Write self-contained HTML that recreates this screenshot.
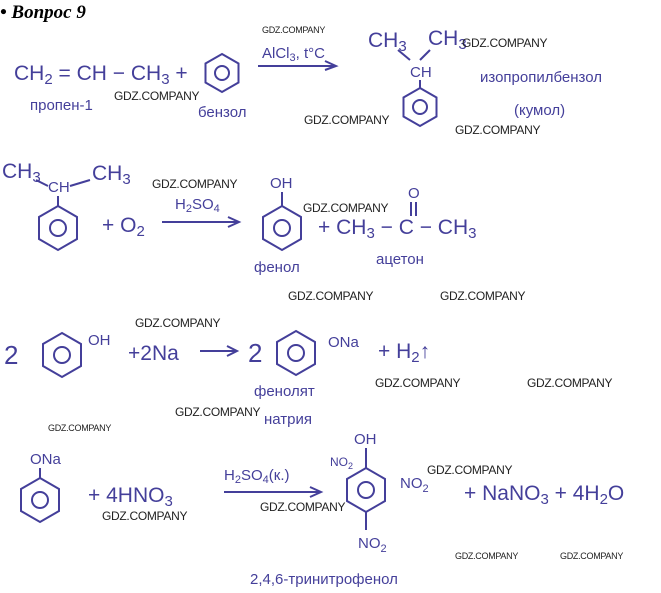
<!DOCTYPE html>
<html><head><meta charset="utf-8"><style>
html,body{margin:0;padding:0;background:#fff;width:661px;height:593px;overflow:hidden}
svg{display:block}
.h{font-family:"Liberation Sans",sans-serif;fill:#443f9a;font-size:21px}
.s{font-size:15px}
.w{font-family:"Liberation Sans",sans-serif;fill:#222;font-size:12px;letter-spacing:-0.3px}
.ws{font-size:9px}
.l{stroke:#443f9a;stroke-width:2;fill:none}
</style></head><body>
<svg width="661" height="593" viewBox="0 0 661 593">
<defs>
<g id="bz"><polygon class="l" points="0,-19 16.5,-9.5 16.5,9.5 0,19 -16.5,9.5 -16.5,-9.5"/><circle class="l" r="7"/></g>
<g id="bzL"><polygon class="l" points="0,-22 19,-11 19,11 0,22 -19,11 -19,-11"/><circle class="l" r="8"/></g>
</defs>
<text x="0" y="18" style="font-family:'Liberation Serif',serif;font-weight:bold;font-style:italic;font-size:19px">• Вопрос 9</text>

<!-- row 1 -->
<text class="h" x="14" y="80">CH<tspan class="s" dy="4">2</tspan><tspan dy="-4"> = CH − CH</tspan><tspan class="s" dy="4">3</tspan><tspan dy="-4"> +</tspan></text>
<use href="#bz" x="222" y="73"/>
<text class="h s" x="30" y="110">пропен-1</text>
<text class="h s" x="198" y="117">бензол</text>
<line class="l" x1="258" y1="66" x2="335" y2="66"/><polyline class="l" points="325,61 336,66 325,70"/>
<text class="h s" x="262" y="58">AlCl<tspan style="font-size:11px" dy="3">3</tspan><tspan dy="-3">, t°C</tspan></text>
<text class="h" x="368" y="47">CH<tspan class="s" dy="4">3</tspan></text>
<text class="h" x="428" y="45">CH<tspan class="s" dy="4">3</tspan></text>
<line class="l" x1="398" y1="50" x2="410" y2="60"/><line class="l" x1="430" y1="50" x2="420" y2="60"/>
<text class="h s" x="410" y="77">CH</text>
<line class="l" x1="420" y1="80" x2="420" y2="88"/>
<use href="#bz" x="420" y="107"/>
<text class="h s" x="480" y="82">изопропилбензол</text>
<text class="h s" x="514" y="115">(кумол)</text>

<!-- row 2 -->
<text class="h" x="2" y="178">CH<tspan class="s" dy="4">3</tspan></text>
<text class="h s" x="48" y="192">CH</text>
<text class="h" x="92" y="180">CH<tspan class="s" dy="4">3</tspan></text>
<line class="l" x1="36" y1="180" x2="48" y2="186"/><line class="l" x1="90" y1="180" x2="70" y2="186"/>
<line class="l" x1="58" y1="196" x2="58" y2="206"/>
<use href="#bzL" x="58" y="228"/>
<text class="h" x="102" y="232">+ O<tspan class="s" dy="4">2</tspan></text>
<line class="l" x1="162" y1="222" x2="238" y2="222"/><polyline class="l" points="228,217 239,222 228,227"/>
<text class="h s" x="175" y="209">H<tspan style="font-size:11px" dy="3">2</tspan><tspan dy="-3">SO</tspan><tspan style="font-size:11px" dy="3">4</tspan></text>
<text class="h s" x="270" y="188">OH</text>
<line class="l" x1="282" y1="192" x2="282" y2="206"/>
<use href="#bzL" x="282" y="228"/>
<text class="h s" x="254" y="272">фенол</text>
<text class="h" x="318" y="234">+ CH<tspan class="s" dy="4">3</tspan><tspan dy="-4"> − C − CH</tspan><tspan class="s" dy="4">3</tspan></text>
<text class="h s" x="408" y="198">O</text>
<line class="l" x1="411" y1="202" x2="411" y2="216"/><line class="l" x1="416" y1="202" x2="416" y2="216"/>
<text class="h s" x="376" y="264">ацетон</text>

<!-- row 3 -->
<text class="h" x="4" y="364" style="font-size:26px">2</text>
<use href="#bzL" x="62" y="355"/>
<text class="h s" x="88" y="345">OH</text>
<text class="h" x="128" y="360">+2Na</text>
<line class="l" x1="200" y1="351" x2="236" y2="351"/><polyline class="l" points="227,346 237,351 227,356"/>
<text class="h" x="248" y="362" style="font-size:26px">2</text>
<use href="#bzL" x="296" y="353"/>
<text class="h s" x="328" y="347">ONa</text>
<text class="h" x="378" y="358">+ H<tspan class="s" dy="4">2</tspan><tspan dy="-4">↑</tspan></text>
<text class="h s" x="254" y="396">фенолят</text>
<text class="h s" x="264" y="424">натрия</text>

<!-- row 4 -->
<text class="h s" x="30" y="464">ONa</text>
<line class="l" x1="40" y1="468" x2="40" y2="478"/>
<use href="#bzL" x="40" y="500"/>
<text class="h" x="88" y="502">+ 4HNO<tspan class="s" dy="4">3</tspan></text>
<line class="l" x1="224" y1="492" x2="320" y2="492"/><polyline class="l" points="310,487 321,492 310,497"/>
<text class="h s" x="224" y="480">H<tspan style="font-size:11px" dy="3">2</tspan><tspan dy="-3">SO</tspan><tspan style="font-size:11px" dy="3">4</tspan><tspan dy="-3">(к.)</tspan></text>
<text class="h s" x="354" y="444">OH</text>
<line class="l" x1="366" y1="448" x2="366" y2="468"/>
<use href="#bzL" x="366" y="490"/>
<text class="h" x="330" y="466" style="font-size:12px">NO<tspan style="font-size:9px" dy="3">2</tspan></text>
<text class="h s" x="400" y="488">NO<tspan style="font-size:11px" dy="4">2</tspan></text>
<line class="l" x1="366" y1="512" x2="366" y2="530"/>
<text class="h s" x="358" y="548">NO<tspan style="font-size:11px" dy="4">2</tspan></text>
<text class="h" x="464" y="500">+ NaNO<tspan class="s" dy="4">3</tspan><tspan dy="-4"> + 4H</tspan><tspan class="s" dy="4">2</tspan><tspan dy="-4">O</tspan></text>
<text class="h s" x="250" y="584">2,4,6-тринитрофенол</text>

<!-- watermarks -->
<text class="w ws" x="262" y="33">GDZ.COMPANY</text>
<text class="w" x="462" y="47">GDZ.COMPANY</text>
<text class="w" x="114" y="100">GDZ.COMPANY</text>
<text class="w" x="304" y="124">GDZ.COMPANY</text>
<text class="w" x="455" y="134">GDZ.COMPANY</text>
<text class="w" x="152" y="188">GDZ.COMPANY</text>
<text class="w" x="303" y="212">GDZ.COMPANY</text>
<text class="w" x="288" y="300">GDZ.COMPANY</text>
<text class="w" x="440" y="300">GDZ.COMPANY</text>
<text class="w" x="135" y="327">GDZ.COMPANY</text>
<text class="w" x="375" y="387">GDZ.COMPANY</text>
<text class="w" x="527" y="387">GDZ.COMPANY</text>
<text class="w" x="175" y="416">GDZ.COMPANY</text>
<text class="w ws" x="48" y="431">GDZ.COMPANY</text>
<text class="w" x="427" y="474">GDZ.COMPANY</text>
<text class="w" x="102" y="520">GDZ.COMPANY</text>
<text class="w" x="260" y="511">GDZ.COMPANY</text>
<text class="w ws" x="455" y="559">GDZ.COMPANY</text>
<text class="w ws" x="560" y="559">GDZ.COMPANY</text>
</svg>
</body></html>
